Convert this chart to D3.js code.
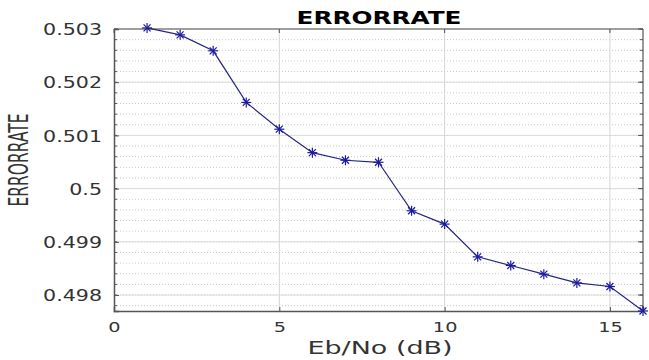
<!DOCTYPE html>
<html>
<head>
<meta charset="utf-8">
<script src="https://cdn.jsdelivr.net/npm/d3@7"></script>
<style>
body { margin: 0; background: #fff; }
text { font-family: "DejaVu Sans", sans-serif; }
</style>
</head>
<body>
<div id="chart"></div>
<script>
const w = 649;
const h = 360;
const xL = 114, xR = 643, yT = 29, yB = 311;
const stretch = 1.33; // text in the original is stretched sideways

// data
const ebno = [1, 2, 3, 4, 5, 6, 7, 8, 9, 10, 11, 12, 13, 14, 15, 16];
const errRate = [0.50302, 0.50289, 0.50259, 0.50162, 0.501117, 0.500676, 0.500533, 0.500495,
  0.499584, 0.499333, 0.498718, 0.498555, 0.498392, 0.498228, 0.49816, 0.4977];
const xTicks = [0, 5, 10, 15];
const yTicks = [0.498, 0.499, 0.5, 0.501, 0.502, 0.503];
const yMinor = d3.range(0, 27).map(i => 0.4978 + i * 0.0002);

const svg = d3.select("#chart").append('svg')
  .attr('width', w).attr('height', h);

const x = d3.scaleLinear().domain([0, 16]).range([xL, xR]);
const y = d3.scaleLinear().domain([0.4977, 0.503]).range([yB, yT]);

//minor grid (dotted)
svg.append('g').selectAll('line').data(yMinor).enter().append('line')
  .attr('x1', xL).attr('x2', xR)
  .attr('y1', d => y(d)).attr('y2', d => y(d))
  .attr('stroke', '#c8c8c8').attr('stroke-width', 1).attr('stroke-dasharray', '1,2');
//major grid
svg.append('g').selectAll('line').data(yTicks).enter().append('line')
  .attr('x1', xL).attr('x2', xR)
  .attr('y1', d => y(d)).attr('y2', d => y(d))
  .attr('stroke', '#dcdcdc').attr('stroke-width', 1);
svg.append('g').selectAll('line').data(xTicks.slice(1)).enter().append('line')
  .attr('x1', d => x(d)).attr('x2', d => x(d))
  .attr('y1', yT).attr('y2', yB)
  .attr('stroke', '#d4d4d4').attr('stroke-width', 1);

//axes
const xAxis = d3.axisBottom(x).tickValues(xTicks).tickSize(-4);
const yAxis = d3.axisLeft(y).tickValues(yTicks).tickSize(-5)
  .tickFormat(d => String(+d.toFixed(3)));

const gx = svg.append('g').attr('transform', `translate(0,${yB})`).call(xAxis);
const gy = svg.append('g').attr('transform', `translate(${xL},0)`).call(yAxis);
[gx, gy].forEach(g => {
  g.select('.domain').attr('stroke', '#555').attr('stroke-width', 1.5);
  g.selectAll('.tick line').attr('stroke', '#555');
  g.selectAll('.tick text').attr('font-size', 15.5).attr('fill', '#333')
    .attr('font-family', '"DejaVu Sans", sans-serif')
    .attr('transform', `scale(${stretch},1)`);
});
gy.selectAll('.tick text').attr('x', -12 / stretch).attr('dy', '0.36em');
gx.selectAll('.tick text').attr('y', 21.5).attr('dy', 0).attr('font-size', 14.5);
//minor ticks on left and right
svg.append('g').selectAll('line').data(yMinor).enter().append('line')
  .attr('x1', xL).attr('x2', xL + 3)
  .attr('y1', d => y(d)).attr('y2', d => y(d)).attr('stroke', '#555');
svg.append('g').selectAll('line').data(yMinor).enter().append('line')
  .attr('x1', xR).attr('x2', xR - 3)
  .attr('y1', d => y(d)).attr('y2', d => y(d)).attr('stroke', '#555');
svg.append('g').selectAll('line').data(yTicks).enter().append('line')
  .attr('x1', xR).attr('x2', xR - 5)
  .attr('y1', d => y(d)).attr('y2', d => y(d)).attr('stroke', '#555');
svg.append('g').selectAll('line').data(xTicks).enter().append('line')
  .attr('x1', d => x(d)).attr('x2', d => x(d))
  .attr('y1', yT).attr('y2', yT + 4).attr('stroke', '#555');
//box top/right
svg.append('line').attr('x1', xL).attr('x2', xR).attr('y1', yT).attr('y2', yT)
  .attr('stroke', '#555').attr('stroke-width', 1.2);
svg.append('line').attr('x1', xR).attr('x2', xR).attr('y1', yT).attr('y2', yB)
  .attr('stroke', '#555').attr('stroke-width', 1.2);

//line
const pts = ebno.map((d, i) => [d, errRate[i]]);
svg.append('path').datum(pts)
  .attr('d', d3.line().x(d => x(d[0])).y(d => y(d[1])))
  .attr('fill', 'none').attr('stroke', '#262680').attr('stroke-width', 1.2);

//asterisk markers
const star = svg.append('g').selectAll('g').data(pts).enter().append('g')
  .attr('transform', d => `translate(${x(d[0])},${y(d[1])})`);
const s = 5;
[[-s, 0, s, 0], [0, -s, 0, s], [-s*0.7, -s*0.7, s*0.7, s*0.7], [-s*0.7, s*0.7, s*0.7, -s*0.7]]
  .forEach(l => {
    star.append('line').attr('x1', l[0]).attr('y1', l[1]).attr('x2', l[2]).attr('y2', l[3])
      .attr('stroke', '#1c1ca0').attr('stroke-width', 1.2);
  });

//labels
svg.append('text').attr('x', 379).attr('y', 23.5)
  .attr('text-anchor', 'middle').attr('font-size', 18).attr('font-weight', 'bold')
  .attr('fill', '#000').attr('textLength', 165).attr('lengthAdjust', 'spacingAndGlyphs')
  .text('ERRORRATE');
svg.append('text').attr('x', 380).attr('y', 354)
  .attr('text-anchor', 'middle').attr('font-size', 17).attr('fill', '#333')
  .attr('textLength', 145).attr('lengthAdjust', 'spacingAndGlyphs')
  .text('Eb/No (dB)');
svg.append('text')
  .attr('transform', `translate(27.5,160) rotate(-90)`)
  .attr('text-anchor', 'middle').attr('font-size', 27).attr('fill', '#333')
  .attr('textLength', 93).attr('lengthAdjust', 'spacingAndGlyphs')
  .style('font-family', '"Liberation Sans Narrow", "DejaVu Sans Condensed", sans-serif')
  .text('ERRORRATE');
</script>
</body>
</html>
